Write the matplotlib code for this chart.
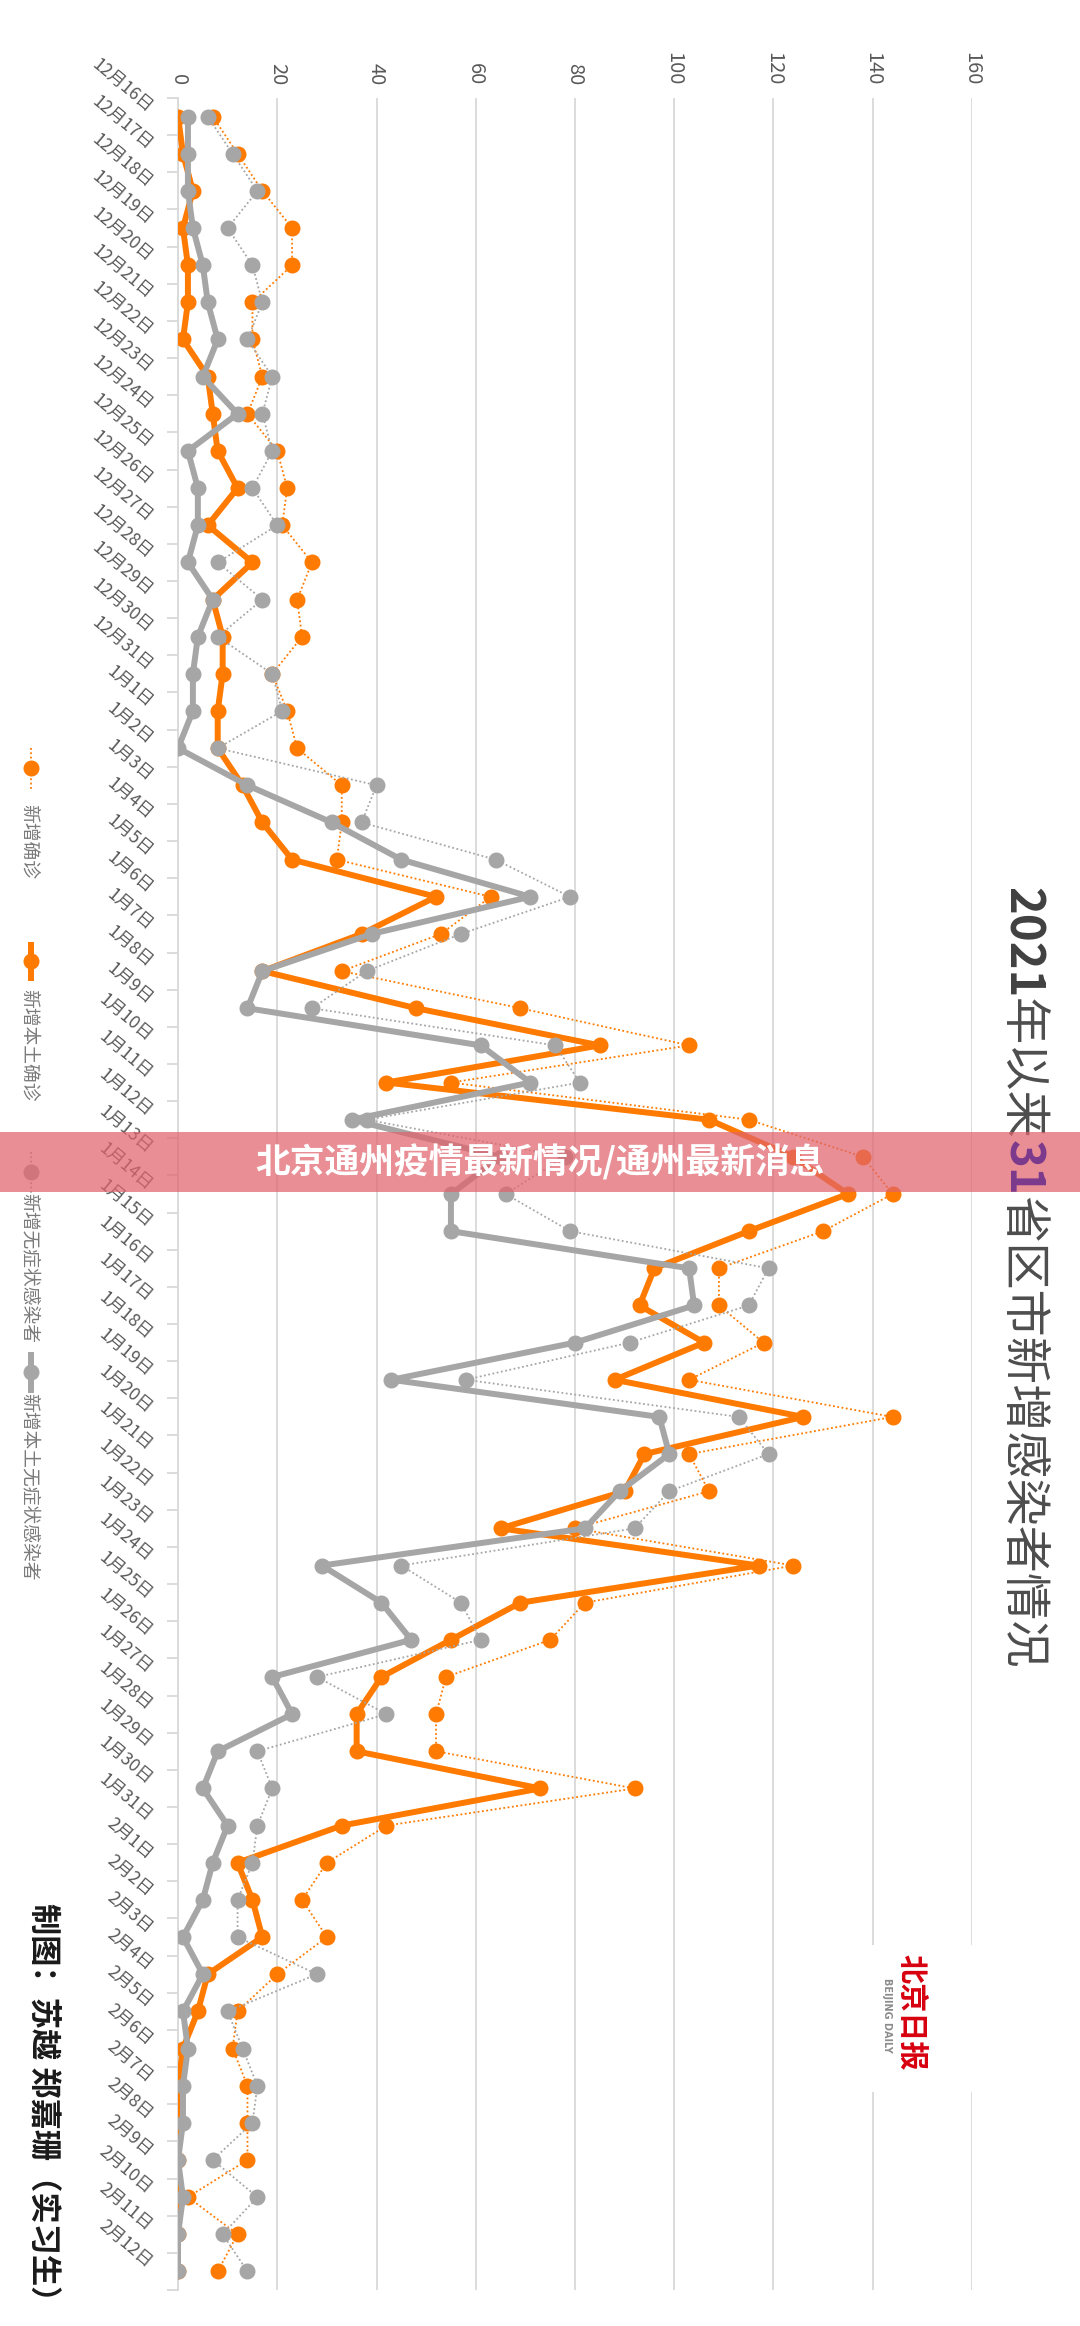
import matplotlib
matplotlib.use('Agg')
import matplotlib.pyplot as plt
from matplotlib.lines import Line2D
from matplotlib.patches import Rectangle
import numpy as np

plt.rcParams['font.family'] = ['Noto Sans CJK SC', 'DejaVu Sans']

# ---------------- data ----------------
dates = ['12月16日', '12月17日', '12月18日', '12月19日', '12月20日', '12月21日', '12月22日',
         '12月23日', '12月24日', '12月25日', '12月26日', '12月27日', '12月28日', '12月29日',
         '12月30日', '12月31日', '1月1日', '1月2日', '1月3日', '1月4日', '1月5日', '1月6日',
         '1月7日', '1月8日', '1月9日', '1月10日', '1月11日', '1月12日', '1月13日', '1月14日',
         '1月15日', '1月16日', '1月17日', '1月18日', '1月19日', '1月20日', '1月21日', '1月22日',
         '1月23日', '1月24日', '1月25日', '1月26日', '1月27日', '1月28日', '1月29日', '1月30日',
         '1月31日', '2月1日', '2月2日', '2月3日', '2月4日', '2月5日', '2月6日', '2月7日',
         '2月8日', '2月9日', '2月10日', '2月11日', '2月12日']

confirmed = [7, 12, 17, 23, 23, 15, 15, 17, 14,
             20, 22, 21, 27, 24, 25, 19, 22, 24,
             33, 33, 32, 63, 53, 33, 69, 103, 55, 115,
             138, 144, 130, 109, 109, 118, 103, 144, 103,
             107, 80, 124, 82, 75, 54, 52, 52, 92,
             42, 30, 25, 30, 20, 12, 11, 14, 14,
             14, 2, 12, 8]

local_confirmed = [0, 1, 3, 1, 2, 2, 1, 6, 7,
                   8, 12, 6, 15, 7, 9, 9, 8, 8,
                   13, 17, 23, 52, 37, 17, 48, 85, 42, 107,
                   124, 135, 115, 96, 93, 106, 88, 126, 94,
                   90, 65, 117, 69, 55, 41, 36, 36, 73,
                   33, 12, 15, 17, 6, 4, 1, 0, 0,
                   0, 0, 0, 0]

asymptomatic = [6, 11, 16, 10, 15, 17, 14, 19, 17,
                19, 15, 20, 8, 17, 8, 19, 21, 8,
                40, 37, 64, 79, 57, 38, 27, 76, 81, 38,
                78, 66, 79, 119, 115, 91, 58, 113, 119,
                99, 92, 45, 57, 61, 28, 42, 16, 19,
                16, 15, 12, 12, 28, 10, 13, 16, 15,
                7, 16, 9, 14]

local_asymptomatic = [2, 2, 2, 3, 5, 6, 8, 5, 12,
                      2, 4, 4, 2, 7, 4, 3, 3, 0,
                      14, 31, 45, 71, 39, 17, 14, 61, 71, 35,
                      65, 55, 55, 103, 104, 80, 43, 97, 99,
                      89, 82, 29, 41, 47, 19, 23, 8, 5,
                      10, 7, 5, 1, 5, 1, 2, 1, 1,
                      0, 1, 0, 0]

value_ticks = [0, 20, 40, 60, 80, 100, 120, 140, 160]
series_names = ['新增确诊', '新增本土确诊', '新增无症状感染者', '新增本土无症状感染者']
title_parts = ['2021', '年以来', '31', '省区市新增感染者情况']
banner_text = '北京通州疫情最新情况/通州最新消息'
credit_text = '制图：苏越 郑嘉珊（实习生）'

# ---------------- figure ----------------
W, H = 1080, 2326
fig = plt.figure(figsize=(W / 100, H / 100), dpi=100)
fig.patch.set_facecolor('white')
ax = fig.add_axes([178 / W, 1 - 2290 / H, (972 - 178) / W, (2290 - 98) / H])

ORANGE = '#FF7A00'
GRAY = '#A6A6A6'
GRID = '#D9D9D9'
TXT = '#595959'
dot = (0, (1, 1.4))
ypos = np.arange(len(dates))
ms = 10.5

ax.plot(confirmed, ypos, color=ORANGE, ls=dot, lw=1.3, marker='o', ms=ms, zorder=3)
ax.plot(local_confirmed, ypos, color=ORANGE, lw=4.3, marker='o', ms=ms, zorder=4,
        solid_joinstyle='round')
ax.plot(asymptomatic, ypos, color=GRAY, ls=dot, lw=1.3, marker='o', ms=ms, zorder=5)
ax.plot(local_asymptomatic, ypos, color=GRAY, lw=4.3, marker='o', ms=ms, zorder=6,
        solid_joinstyle='round')

ax.set_xlim(0, 160)
ax.set_ylim(len(dates) - 0.5, -0.5)
ax.set_xticks(value_ticks)
ax.xaxis.tick_top()
ax.set_xticklabels([str(v) for v in value_ticks], rotation=-90, fontsize=14.5, color=TXT)
ax.tick_params(axis='x', length=0, pad=9)
ax.grid(axis='x', color=GRID, lw=1.3)
ax.set_axisbelow(True)
for s in ['top', 'right', 'bottom']:
    ax.spines[s].set_visible(False)
ax.spines['left'].set_color(GRID)
ax.spines['left'].set_linewidth(1.3)

ax.set_yticks(ypos)
ax.set_yticklabels(dates, rotation=-40, ha='right', va='bottom', rotation_mode='anchor',
                   fontsize=12.5, color=TXT)
ax.tick_params(axis='y', which='major', length=0, pad=24)
ax.set_yticks(np.arange(-0.5, len(dates)), minor=True)
ax.tick_params(axis='y', which='minor', length=8, color=GRID, width=1.3)

renderer = fig.canvas.get_renderer()


def fx(px):
    return px / W


def fy(py):
    return 1 - py / H


# ---------------- title (rotated) ----------------
title_styles = [('#404040', 'bold'), ('#4d4d4d', 'normal'), ('#7B3A8C', 'bold'),
                ('#4d4d4d', 'normal')]
cur = 887
for txt, (col, wt) in zip(title_parts, title_styles):
    t = fig.text(fx(1008), fy(cur), txt, rotation=-90, rotation_mode='anchor',
                 ha='left', va='baseline', fontsize=34, color=col, fontweight=wt,
                 zorder=12 if txt == '31' else 2)
    bb = t.get_window_extent(renderer)
    cur += bb.height

# ---------------- legend (manual, rotated) ----------------
leg_x = 31
leg_items = [
    (ORANGE, dot, 1.3, 748, 790, 768, 798),
    (ORANGE, '-', 4.3, 945, 978, 961, 983),
    (GRAY, dot, 1.3, 1152, 1193, 1172, 1187),
    (GRAY, '-', 4.3, 1355, 1390, 1372, 1387),
]
for name, (col, ls, lw, y1, y2, ym, yt) in zip(series_names, leg_items):
    fig.add_artist(Line2D([fx(leg_x), fx(leg_x)], [fy(y1), fy(y2)], color=col, ls=ls, lw=lw,
                          transform=fig.transFigure))
    fig.add_artist(Line2D([fx(leg_x)], [fy(ym)], color=col, marker='o', ms=ms, ls='none',
                          transform=fig.transFigure))
    fig.text(fx(24), fy(yt + 6), name, rotation=-90, rotation_mode='anchor', ha='left',
             va='baseline', fontsize=13.5, color='#7a7a7a')

# ---------------- credit ----------------
fig.text(fx(33), fy(1903), credit_text, rotation=-90, rotation_mode='anchor', ha='left',
         va='baseline', fontsize=22.5, color='#1a1a1a', fontweight='bold')

# ---------------- logo ----------------
fig.add_artist(Rectangle((fx(862), fy(2092)), (978 - 862) / W, (2092 - 1945) / H,
                         transform=fig.transFigure, facecolor='white', edgecolor='none',
                         zorder=7))
fig.text(fx(912), fy(2012), '北京日报', rotation=-90, ha='center', va='center',
         fontsize=21, color='#D7000F', fontweight='bold', zorder=8)
fig.text(fx(887), fy(2015), 'BEIJING DAILY', rotation=-90, ha='center', va='center',
         fontsize=7, color='#8c8c8c', fontweight='bold', zorder=8, family='DejaVu Sans')

# ---------------- banner ----------------
fig.add_artist(Rectangle((0, fy(1192)), 1, 60 / H, transform=fig.transFigure,
                         facecolor='#E0636B', edgecolor='none', alpha=0.72, zorder=10))
fig.text(0.5, fy(1162), banner_text, ha='center', va='center', fontsize=25, color='white',
         fontweight='bold', zorder=11)

fig.savefig('out.png', dpi=100, facecolor='white')
